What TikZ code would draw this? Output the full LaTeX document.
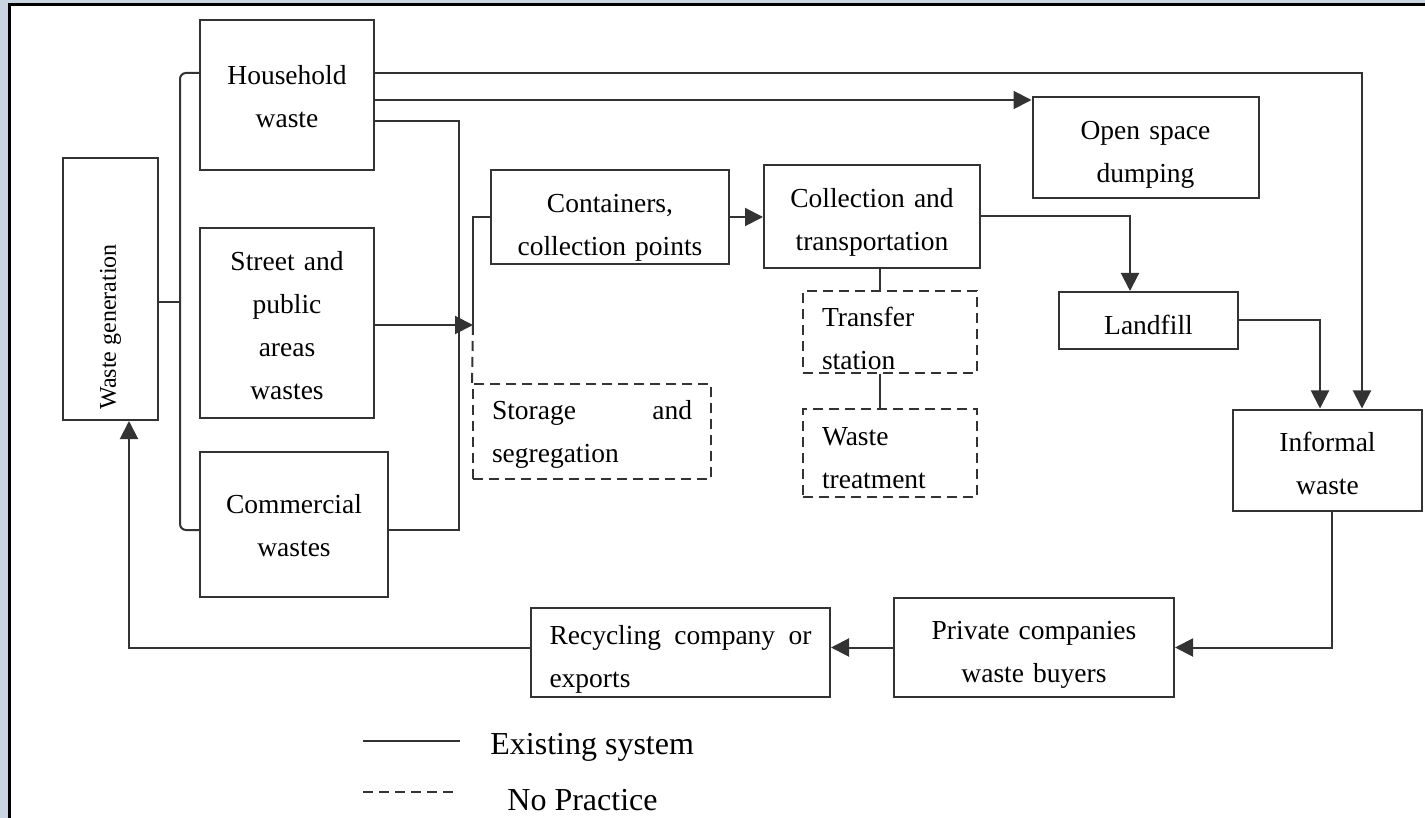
\documentclass[tikz,border=0pt]{standalone}
\usepackage{fontspec}
\setmainfont{Liberation Serif}
\usepackage{tikz}
\usetikzlibrary{arrows.meta}
\definecolor{framegray}{HTML}{C9D5E0}

\begin{document}
\begin{tikzpicture}[
  x=0.5pt, y=-0.5pt,
  font=\fontsize{13.75}{21.5}\selectfont,
  blk/.style={draw=black!80, line width=1pt, inner sep=0pt, align=center},
  nop/.style={blk, dash pattern=on 5pt off 3pt, align=left},
  dn/.style={execute at begin node={\rule{0pt}{#1}}},
  ln/.style={draw=black!80, line width=1pt},
  arr/.style={ln, -{Triangle[length=9pt, width=9pt]}}
]
\useasboundingbox (0,0) rectangle (1425,818);
\fill[framegray] (0,0) rectangle (1425,818);
\fill[white] (11,6) rectangle (1425,818);
\fill[black] (8,3) rectangle (11,818);
\fill[black] (8,3) rectangle (1425,6);

\node[blk, rotate=90, minimum width=131pt, minimum height=47.5pt,
      font=\fontsize{12}{14}\selectfont] (gen) at (110.5,289) {Waste generation\hspace{38pt}};
\node[blk, dn=11.5pt, minimum width=87pt, minimum height=75pt, text width=80pt] (hh) at (287,95) {Household\\waste};
\node[blk, dn=12.5pt, minimum width=87pt, minimum height=95pt, text width=80pt] (st) at (287,323) {Street and\\public\\areas\\wastes};
\node[blk, dn=10.5pt, minimum width=94pt, minimum height=72.5pt, text width=90pt] (com) at (294,524.5) {Commercial\\wastes};

\node[blk, dn=19.5pt, minimum width=119pt, minimum height=47pt, text width=115pt] (cont) at (610,217) {Containers,\\collection points};
\node[blk, dn=15.5pt, minimum width=108pt, minimum height=51.5pt, text width=104pt] (col) at (872,216.5) {Collection and\\transportation};
\node[nop, dn=12.5pt, minimum width=119pt, minimum height=47.5pt, text width=100pt] (sto) at (592,431.5) {Storage\hfill and\\segregation};
\node[nop, dn=16.5pt, minimum width=87pt, minimum height=41pt, text width=68pt] (trf) at (890,332) {Transfer\\station};
\node[nop, dn=14.5pt, minimum width=87pt, minimum height=44pt, text width=68pt] (trt) at (890,453) {Waste\\treatment};

\node[blk, dn=16.5pt, minimum width=113pt, minimum height=50.5pt, text width=108pt] (osd) at (1145.5,147.5) {Open space\\dumping};
\node[blk, dn=14.5pt, minimum width=89.5pt, minimum height=28.5pt, text width=85pt] (lf) at (1148.5,320.5) {Landfill};
\node[blk, dn=13.5pt, minimum width=94.5pt, minimum height=50.5pt, text width=90pt] (inf) at (1327.5,460) {Informal\\waste};
\node[blk, dn=16.5pt, minimum width=140pt, minimum height=49.5pt, text width=136pt] (prv) at (1034,647.5) {Private companies\\waste buyers};
\node[blk, dn=16.5pt, align=left, minimum width=149.5pt, minimum height=44.5pt, text width=131pt] (rec) at (680.5,652.5) {Recycling\hfill company\hfill or\\exports};

\coordinate (brc) at (180,302);
\coordinate (sj) at (473,325);

\draw[ln, rounded corners=3pt] (hh.west |- 0,73) -| (brc) |- (com.west |- 0,530);
\draw[ln] (gen.south |- brc) -- (brc);

\draw[arr] (hh.east |- 0,73) -| (inf.north -| 1362,0);
\draw[arr] (hh.east |- 0,100) -- (osd.west |- 0,100);
\draw[ln] (hh.east |- 0,121) -| (459,530) -- (com.east |- 0,530);

\draw[arr] (st.east |- sj) -- (sj);
\draw[ln] (cont.west) -| (sj);
\draw[ln, dash pattern=on 5pt off 3pt] (sj) -- (sto.north west);

\draw[arr] (cont.east) -- (col.west |- cont.east);
\draw[arr] (col.east) -| (lf.north -| 1130,0);
\draw[ln] (col.south -| 880,0) -- (trf.north -| 880,0);
\draw[ln] (trf.south -| 880,0) -- (trt.north -| 880,0);

\draw[arr] (lf.east) -| (inf.north -| 1320,0);
\draw[arr] (inf.south -| 1332,0) |- (prv.east);
\draw[arr] (prv.west) -- (rec.east |- prv.west);
\draw[arr] (rec.west |- prv.west) -| (gen.west -| 129,0);

\coordinate (exa) at (363,741);
\coordinate (exb) at (460,741);
\coordinate (npa) at (363,792);
\coordinate (npb) at (458,792);
\draw[ln] (exa) -- (exb);
\draw[ln, dash pattern=on 5pt off 3pt] (npa) -- (npb);
\node[anchor=west, inner sep=0pt, font=\fontsize{16}{18}\selectfont] (exi) at (490,747) {Existing system};
\node[anchor=west, inner sep=0pt, font=\fontsize{16}{18}\selectfont] (nop) at (507,800) {No Practice};
\end{tikzpicture}
\end{document}
